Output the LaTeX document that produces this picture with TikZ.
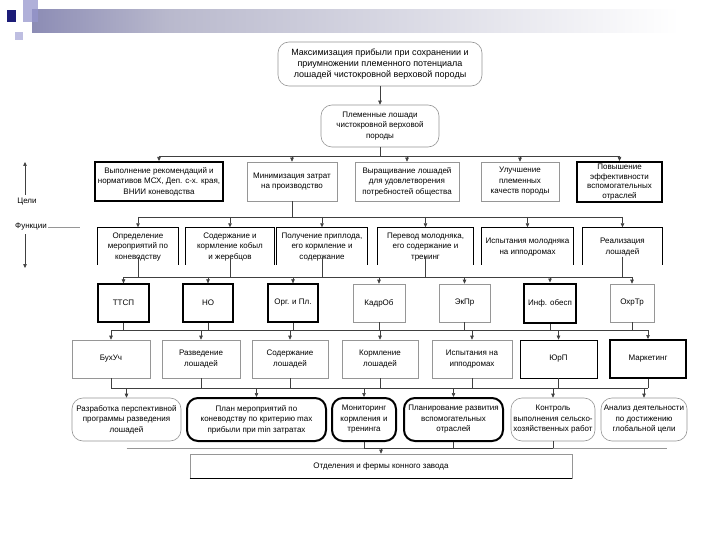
\documentclass[tikz,border=0pt]{standalone}
\usepackage{fontspec}
\setmainfont{Liberation Sans}
\usetikzlibrary{arrows.meta}
\definecolor{navy}{RGB}{28,28,120}
\definecolor{midc}{RGB}{185,185,205}
\definecolor{lav}{RGB}{150,150,205}
\definecolor{lavl}{RGB}{190,190,225}
\definecolor{lgr}{RGB}{150,150,150}
\pgfdeclarehorizontalshading{hdr}{100bp}{color(0bp)=(navy); color(35bp)=(midc); color(72bp)=(white); color(100bp)=(white)}
\begin{document}
\begin{tikzpicture}[x=1pt,y=-1pt,
  txt/.style={font=\fontsize{8}{10.5}\selectfont, align=center, inner sep=1pt},
  gbox/.style={txt, draw=lgr, line width=0.6pt},
  kbox/.style={txt, draw=black, line width=1.2pt},
  nbox/.style={txt, draw=black, line width=0.7pt},
  tbox/.style={txt, draw=black, line width=2pt},
  obox/.style={txt, draw=none},
  rnd/.style={rounded corners=11pt},
  conn/.style={draw=black!75, line width=0.6pt},
  arr/.style={conn, -{Triangle[length=4pt,width=3.5pt]}}]
\useasboundingbox (0,0) rectangle (720,540);
\fill[white] (0,0) rectangle (720,540);
% header decoration
\shade[shading=hdr] (32,10) rectangle (720,33);
\fill[lav, opacity=0.75] (23,0) rectangle (38,22);
\fill[navy] (7,10) rectangle (16,22);
\fill[lavl] (15,32) rectangle (23,40);

% top
\node[gbox, rnd, minimum width=204pt, minimum height=44pt, font=\fontsize{9}{10.8}\selectfont] (top) at (380,64)
 {Максимизация прибыли при сохранении и\\приумножении племенного потенциала\\лошадей чистокровной верховой породы};
\node[gbox, rnd, minimum width=118pt, minimum height=42pt] (sec) at (380,126)
 {Племенные лошади\\чистокровной верховой\\породы};
\draw[arr] (top) -- (sec);

% goals
\coordinate (gbus) at (0,156);
\node[tbox, minimum width=128pt, minimum height=39pt] (g1) at (159,181.5)
 {Выполнение рекомендаций и\\нормативов МСХ, Деп. с-х. края,\\ВНИИ коневодства};
\node[gbox, minimum width=90pt, minimum height=39pt] (g2) at (292,181.5)
 {Минимизация затрат\\на производство};
\node[gbox, minimum width=104pt, minimum height=39pt] (g3) at (407,181.5)
 {Выращивание лошадей\\для удовлетворения\\потребностей общества};
\node[gbox, minimum width=78pt, minimum height=39pt] (g4) at (520,181.5)
 {Улучшение\\племенных\\качеств породы};
\node[tbox, minimum width=85pt, minimum height=40pt, font=\fontsize{8}{9.8}\selectfont] (g5) at (619.5,182)
 {Повышение\\эффективности\\вспомогательных\\отраслей};
\draw[conn] (sec.south) -- (sec.south |- gbus);
\draw[conn] (g1.north |- gbus) -- (g5.north |- gbus);
\foreach \n in {g1,g2,g3,g4,g5} \draw[arr] (\n.north |- gbus) -- (\n.north);

% left labels
\node[txt] (lc) at (27,202) {Цели};
\node[txt] (lf) at (31,227) {Функции};
\coordinate (cu1) at (25,195);
\coordinate (cu2) at (25,162);
\coordinate (fd1) at (25,234);
\coordinate (fd2) at (25,268);
\coordinate (fl) at (80,0);
\draw[arr] (cu1) -- (cu2);
\draw[arr] (fd1) -- (fd2);
\draw[draw=lgr, line width=0.6pt] (lf.east) -- (lf.east -| fl);

% functions
\coordinate (fbus) at (0,217);
\node[obox, minimum width=80pt, minimum height=39pt] (f1) at (138,247)
 {Определение\\мероприятий по\\коневодству};
\node[obox, minimum width=88pt, minimum height=39pt] (f2) at (230,247)
 {Содержание и\\кормление кобыл\\и жеребцов};
\node[obox, minimum width=90pt, minimum height=39pt] (f3) at (322,247)
 {Получение приплода,\\его кормление и\\содержание};
\node[obox, minimum width=95pt, minimum height=39pt] (f4) at (425.5,247)
 {Перевод молодняка,\\его содержание и\\тренинг};
\node[obox, minimum width=91pt, minimum height=39pt] (f5) at (527.5,247)
 {Испытания молодняка\\на ипподромах};
\node[obox, minimum width=79pt, minimum height=39pt] (f6) at (622.5,247)
 {Реализация\\лошадей};
\foreach \n in {f1,f2,f3,f4,f5,f6}
  \draw[black, line width=0.7pt] ([yshift=2pt]\n.south west) -- (\n.north west) -- (\n.north east) -- ([yshift=2pt]\n.south east);
\draw[conn] (g2.south) -- (g2.south |- fbus);
\draw[conn] (f1.north |- fbus) -- (f6.north |- fbus);
\foreach \n in {f1,f2,f3,f4,f5,f6} \draw[arr] (\n.north |- fbus) -- (\n.north);

% departments
\coordinate (dbus) at (0,277);
\node[kbox, minimum width=51pt, minimum height=38pt] (d1) at (123.5,303) {ТТСП};
\node[kbox, minimum width=50pt, minimum height=38pt] (d2) at (208,303) {НО};
\node[kbox, minimum width=50pt, minimum height=38pt] (d3) at (293,303) {Орг. и Пл.};
\node[gbox, minimum width=52pt, minimum height=38pt] (d4) at (379,303) {КадрОб};
\node[gbox, minimum width=51pt, minimum height=38pt] (d5) at (464.5,303) {ЭкПр};
\node[tbox, minimum width=52pt, minimum height=39pt] (d6) at (550,303) {Инф. обесп};
\node[gbox, minimum width=44pt, minimum height=38pt] (d7) at (632,303) {ОхрТр};
\foreach \n in {f1,f2,f3,f4,f6} \draw[conn] ([yshift=10pt]\n.south) -- (\n.south |- dbus);
\draw[conn] (d1.north |- dbus) -- (d7.north |- dbus);
\foreach \n in {d1,d2,d3,d4,d5,d6,d7} \draw[arr] (\n.north |- dbus) -- (\n.north);

% services
\coordinate (sbus) at (0,330);
\node[gbox, minimum width=78pt, minimum height=38pt] (s1) at (111,359) {БухУч};
\node[gbox, minimum width=78pt, minimum height=38pt] (s2) at (201,359) {Разведение\\лошадей};
\node[gbox, minimum width=76pt, minimum height=38pt] (s3) at (290,359) {Содержание\\лошадей};
\node[gbox, minimum width=76pt, minimum height=38pt] (s4) at (380,359) {Кормление\\лошадей};
\node[gbox, minimum width=80pt, minimum height=38pt] (s5) at (472,359) {Испытания на\\ипподромах};
\node[nbox, minimum width=77pt, minimum height=38pt] (s6) at (558.5,359) {ЮрП};
\node[tbox, minimum width=76pt, minimum height=38pt] (s7) at (648,359) {Маркетинг};
\foreach \n in {d1,d2,d3,d4,d5,d6,d7} \draw[conn] (\n.south) -- (\n.south |- sbus);
\draw[conn] (s1.north |- sbus) -- (s7.north |- sbus);
\foreach \n in {s1,s2,s3,s4,s5,s6,s7} \draw[arr] (\n.north |- sbus) -- (\n.north);

% controls
\coordinate (cbus) at (0,388);
\node[gbox, rnd, minimum width=109pt, minimum height=43pt] (c1) at (126.5,419.5)
 {Разработка перспективной\\программы разведения\\лошадей};
\node[tbox, rnd, minimum width=139pt, minimum height=43pt] (c2) at (256.5,419.5)
 {План мероприятий по\\коневодству по критерию max\\прибыли при min затратах};
\node[tbox, rnd, minimum width=64pt, minimum height=43pt] (c3) at (364,419.5)
 {Мониторинг\\кормления и\\тренинга};
\node[tbox, rnd, minimum width=99pt, minimum height=43pt] (c4) at (453.5,419.5)
 {Планирование развития\\вспомогательных\\отраслей};
\node[gbox, rnd, minimum width=84pt, minimum height=43pt] (c5) at (553,419.5)
 {Контроль\\выполнения сельско-\\хозяйственных работ};
\node[gbox, rnd, minimum width=86pt, minimum height=43pt] (c6) at (644,419.5)
 {Анализ деятельности\\по достижению\\глобальной цели};
\foreach \n in {s1,s2,s3,s4,s5,s6,s7} \draw[conn] (\n.south) -- (\n.south |- cbus);
\draw[conn] (s1.south |- cbus) -- (s7.south |- cbus);
\foreach \n in {c1,c2,c3,c4,c5,c6} \draw[arr] (\n.north |- cbus) -- (\n.north);

% final
\coordinate (bbus) at (0,448);
\node[gbox, minimum width=382pt, minimum height=24pt] (fin) at (381,466) {Отделения и фермы конного завода};
\draw[black, line width=1.3pt] (fin.south west) -- (fin.south east);
\foreach \n in {c3,c4,c5} \draw[conn] (\n.south) -- (\n.south |- bbus);
\draw[draw=lgr, line width=0.6pt] (c1.south |- bbus) -- ([xshift=23pt]c6.south |- bbus);
\draw[conn] (c3.south |- bbus) -- (c5.south |- bbus);
\draw[arr] (fin.north |- bbus) -- (fin.north);
\end{tikzpicture}
\end{document}
